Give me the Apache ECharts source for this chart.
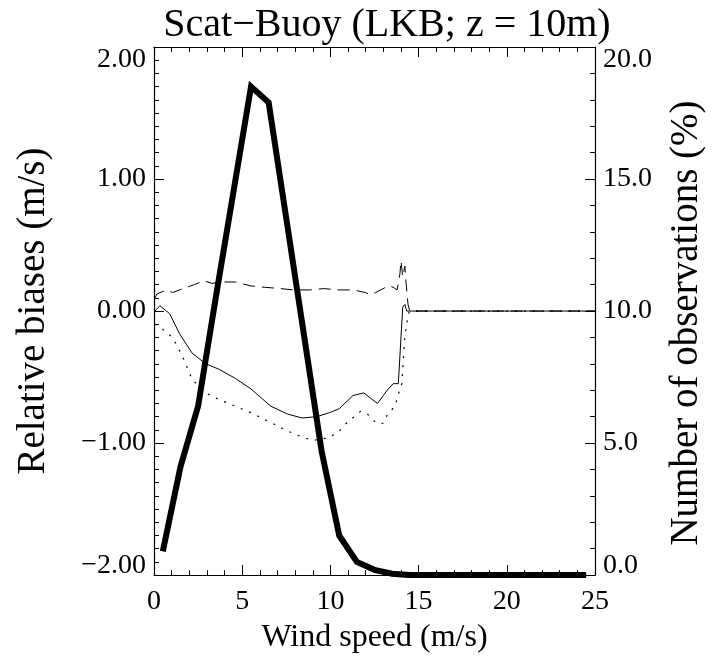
<!DOCTYPE html>
<html>
<head>
<meta charset="utf-8">
<script src="https://cdn.jsdelivr.net/npm/echarts@6/dist/echarts.min.js"></script>
<style>html,body{margin:0;padding:0;background:#fff}#c{width:714px;height:659px}</style>
</head>
<body>
<div id="c"></div>
<script>
// ---- data ----
const titleText = 'Scat\u2212Buoy (LKB; z = 10m)';
const xName = 'Wind speed (m/s)';
const leftName = 'Relative biases (m/s)';
const rightName = 'Number of observations (%)';

const xTickValues = [0, 5, 10, 15, 20, 25];
const xTickLabels = ['0', '5', '10', '15', '20', '25'];
const leftTickValues = [-2, -1, 0, 1, 2];
const leftTickLabels = ['\u22122.00', '\u22121.00', '0.00', '1.00', '2.00'];
const rightTickValues = [0, 5, 10, 15, 20];
const rightTickLabels = ['0.0', '5.0', '10.0', '15.0', '20.0'];

// number of observations (%), thick line, right axis
const obsX = [0.5,1.5,2.5,3.5,4.5,5.5,6.5,7.5,8.5,9.5,10.5,11.5,12.5,13.5,14.5,15.5,16.5,17.5,18.5,19.5,20.5,21.5,22.5,23.5,24.5];
const obsPct = [0.9,4.1,6.4,10.5,14.5,18.5,17.9,13.5,9.1,4.7,1.5,0.5,0.2,0.05,0,0,0,0,0,0,0,0,0,0,0];

// solid thin line
const solidX = [0.05,0.33,0.89,1.44,2.17,2.94,3.67,4.61,5.5,6.61,7.56,8.39,9.22,9.94,10.5,11.28,11.89,12.67,13.0,13.22,13.56,13.85,14.1,14.22,14.33,25];
const solidY = [0.0,0.04,-0.02,-0.17,-0.32,-0.40,-0.44,-0.51,-0.59,-0.72,-0.78,-0.81,-0.80,-0.77,-0.74,-0.64,-0.62,-0.70,-0.64,-0.60,-0.55,-0.55,0.03,0.05,0.0,0.0];

// dotted thin line
const dottedX = [0.05,0.33,1.05,1.61,2.17,2.94,3.67,4.78,5.5,6.4,7.3,8.1,9.0,9.9,10.5,10.9,11.7,12.1,12.6,13.0,13.25,13.67,13.94,14.05,14.11,14.22,14.33,14.39,14.5,25];
const dottedY = [-0.10,-0.12,-0.20,-0.34,-0.52,-0.62,-0.67,-0.73,-0.77,-0.83,-0.89,-0.94,-0.98,-0.96,-0.91,-0.85,-0.76,-0.78,-0.85,-0.85,-0.78,-0.72,-0.59,-0.55,-0.42,-0.19,-0.10,-0.03,0.0,0.0];

// dashed thin line
const dashedX = [0.05,0.17,0.72,1.05,1.44,2.28,2.83,3.28,3.83,4.61,5.5,6.28,7.17,7.94,8.83,9.61,10.5,11.28,12.0,12.28,12.56,13.28,13.56,13.78,13.94,14.0,14.1,14.22,14.28,14.4,14.5,25];
const dashedY = [0.10,0.13,0.16,0.14,0.16,0.20,0.23,0.21,0.22,0.22,0.19,0.18,0.17,0.16,0.16,0.17,0.16,0.16,0.14,0.12,0.14,0.19,0.18,0.16,0.28,0.38,0.26,0.34,0.23,0.05,0.0,0.0];

// ---- chart ----
const zip = (xs, ys) => xs.map((x, i) => [x, ys[i]]);
const FONT = 'Liberation Serif';
const FS = 28;
const lookup = (vals, labels) => v => {
  const i = vals.findIndex(t => Math.abs(t - v) < 1e-9);
  return i < 0 ? '' : labels[i];
};
const leftLab = lookup(leftTickValues, leftTickLabels);
const rightLab = lookup(rightTickValues, rightTickLabels);

function yFormatter(labFn, minV, maxV) {
  return v => {
    const s = labFn(v);
    if (Math.abs(v - maxV) < 1e-9) return '{gt| }\n' + s;
    if (Math.abs(v - minV) < 1e-9) return s + '\n{gb| }';
    return s;
  };
}
const richEnds = { gt: { lineHeight: 26, fontSize: 10 }, gb: { lineHeight: 18, fontSize: 10 } };

const tickCommon = { show: true, inside: true, length: 10, lineStyle: { color: '#000', width: 1 } };
const minorCommon = { show: true, length: 5, lineStyle: { color: '#000', width: 1 } };
const lineCommon = { show: true, onZero: false, lineStyle: { color: '#000', width: 1.2 } };
const labelCommon = { color: '#000', fontFamily: FONT, fontSize: FS, lineHeight: 30 };

const chart = echarts.init(document.getElementById('c'), null, { renderer: 'canvas' });
chart.setOption({
  animation: false,
  backgroundColor: '#fff',
  title: {
    text: titleText,
    left: 382, top: 0, textAlign: 'center',
    textStyle: { fontFamily: FONT, fontSize: 40, fontWeight: 'normal', color: '#000' }
  },
  grid: { left: 154, right: 108, top: 47, bottom: 78 },
  xAxis: [
    {
      type: 'value', position: 'bottom', min: 0, max: 25, interval: 5,
      name: xName, nameLocation: 'middle', nameGap: 36,
      nameTextStyle: { fontFamily: FONT, fontSize: 32, color: '#000' },
      axisLine: lineCommon, axisTick: tickCommon,
      minorTick: Object.assign({ splitNumber: 5 }, minorCommon),
      splitLine: { show: false },
      axisLabel: Object.assign({ margin: 12, formatter: lookup(xTickValues, xTickLabels) }, labelCommon)
    },
    {
      type: 'value', position: 'top', min: 0, max: 25, interval: 5,
      axisLine: lineCommon, axisTick: tickCommon,
      minorTick: Object.assign({ splitNumber: 5 }, minorCommon),
      splitLine: { show: false }, axisLabel: { show: false }
    }
  ],
  yAxis: [
    {
      type: 'value', position: 'left', min: -2, max: 2, interval: 1,
      name: leftName, nameLocation: 'middle', nameGap: 101, nameRotate: 90,
      nameTextStyle: { fontFamily: FONT, fontSize: 39, color: '#000' },
      axisLine: lineCommon, axisTick: tickCommon,
      minorTick: Object.assign({ splitNumber: 10 }, minorCommon),
      splitLine: { show: false },
      axisLabel: Object.assign({ margin: 8, formatter: yFormatter(leftLab, -2, 2), rich: richEnds }, labelCommon)
    },
    {
      type: 'value', position: 'right', min: 0, max: 20, interval: 5,
      name: rightName, nameLocation: 'middle', nameGap: 72, nameRotate: 90,
      nameTextStyle: { fontFamily: FONT, fontSize: 39, color: '#000', padding: [0, 24, 0, 0] },
      axisLine: lineCommon, axisTick: tickCommon,
      minorTick: Object.assign({ splitNumber: 5 }, minorCommon),
      splitLine: { show: false },
      axisLabel: Object.assign({ margin: 8, formatter: yFormatter(rightLab, 0, 20), rich: richEnds }, labelCommon)
    }
  ],
  series: [
    {
      type: 'line', xAxisIndex: 0, yAxisIndex: 0, data: zip(dashedX, dashedY),
      showSymbol: false, symbol: 'none', silent: true,
      lineStyle: { color: '#000', width: 1, type: [12, 7] }
    },
    {
      type: 'line', xAxisIndex: 0, yAxisIndex: 0, data: zip(dottedX, dottedY),
      showSymbol: false, symbol: 'none', silent: true,
      lineStyle: { color: '#000', width: 1.2, type: [2, 7] }
    },
    {
      type: 'line', xAxisIndex: 0, yAxisIndex: 0, data: zip(solidX, solidY),
      showSymbol: false, symbol: 'none', silent: true,
      lineStyle: { color: '#000', width: 1 }
    },
    {
      type: 'line', xAxisIndex: 0, yAxisIndex: 1, data: zip(obsX, obsPct),
      showSymbol: false, symbol: 'none', silent: true,
      lineStyle: { color: '#000', width: 6, join: 'miter' }
    }
  ]
});
</script>
</body>
</html>
